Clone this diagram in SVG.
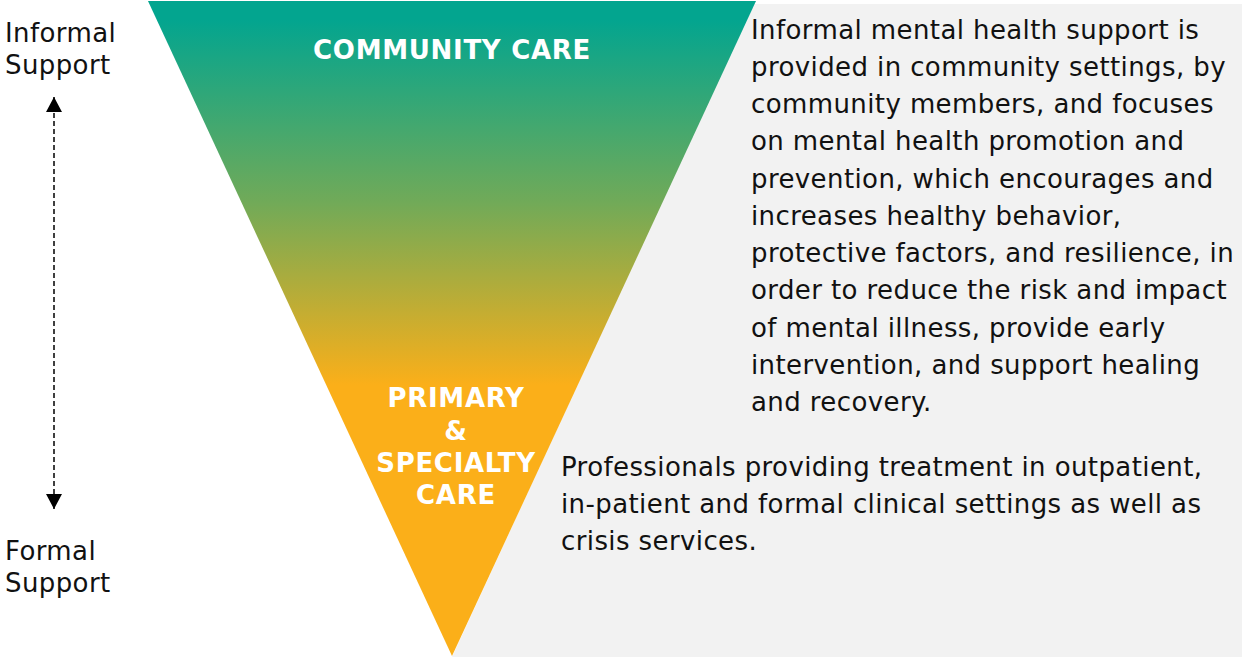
<svg xmlns="http://www.w3.org/2000/svg" width="1242" height="657" viewBox="0 0 1242 657">
  <style>
    .body { font-family: "DejaVu Sans", Verdana, sans-serif; font-size: 26px; letter-spacing: 0.4px; fill: #111111; }
    .head { font-family: "DejaVu Sans", Verdana, sans-serif; font-size: 26px; letter-spacing: 0.7px; font-weight: bold; fill: #ffffff; text-anchor: middle; }
    .axis { stroke: #000000; stroke-width: 1.5; stroke-dasharray: 5 3; fill: none; }
  </style>
  <defs>
    <linearGradient id="careGrad" gradientUnits="userSpaceOnUse" x1="0" y1="20" x2="0" y2="385">
      <stop offset="0" stop-color="#03a58f"/>
      <stop offset="0.5" stop-color="#71aa58"/>
      <stop offset="1" stop-color="#fbaf19"/>
    </linearGradient>
    <!-- arrowhead drawn along +x so orient="auto" turns it with the line -->
    <marker id="tip" viewBox="0 0 15 16" refX="15" refY="8" markerWidth="15" markerHeight="16" markerUnits="userSpaceOnUse" orient="auto-start-reverse">
      <path d="M0 0 L15 8 L0 16 Z" fill="#000000"/>
    </marker>
  </defs>

  <rect width="1242" height="657" fill="#ffffff"/>

  <!-- grey panel behind the descriptions -->
  <polygon id="panel" points="753,4 1242,4 1242,657 452,657" fill="#f2f2f2"/>

  <!-- inverted care pyramid -->
  <g id="pyramid">
    <polygon points="148,1 756,1 452,656" fill="url(#careGrad)"/>
  </g>

  <g id="community-care">
    <text class="head" x="452" y="59">COMMUNITY CARE</text>
  </g>

  <g id="primary-specialty-care">
    <text class="head" x="456" y="407">PRIMARY</text>
    <text class="head" x="456" y="440">&amp;</text>
    <text class="head" x="456" y="472">SPECIALTY</text>
    <text class="head" x="456" y="504">CARE</text>
  </g>

  <g id="informal-support">
    <text class="body" x="5" y="42">Informal</text>
    <text class="body" x="5" y="74">Support</text>
  </g>

  <g id="formal-support">
    <text class="body" x="5" y="560">Formal</text>
    <text class="body" x="5" y="592">Support</text>
  </g>

  <g id="connectors">
    <line class="axis" x1="54" y1="97" x2="54" y2="509" marker-start="url(#tip)" marker-end="url(#tip)"/>
  </g>

  <g id="community-description">
    <text class="body" x="751" y="39">Informal mental health support is</text>
    <text class="body" x="751" y="76">provided in community settings, by</text>
    <text class="body" x="751" y="113">community members, and focuses</text>
    <text class="body" x="751" y="150">on mental health promotion and</text>
    <text class="body" x="751" y="188">prevention, which encourages and</text>
    <text class="body" x="751" y="225">increases healthy behavior,</text>
    <text class="body" x="751" y="262">protective factors, and resilience, in</text>
    <text class="body" x="751" y="299">order to reduce the risk and impact</text>
    <text class="body" x="751" y="337">of mental illness, provide early</text>
    <text class="body" x="751" y="374">intervention, and support healing</text>
    <text class="body" x="751" y="411">and recovery.</text>
  </g>

  <g id="specialty-description">
    <text class="body" x="561" y="476">Professionals providing treatment in outpatient,</text>
    <text class="body" x="561" y="513">in-patient and formal clinical settings as well as</text>
    <text class="body" x="561" y="550">crisis services.</text>
  </g>
</svg>
